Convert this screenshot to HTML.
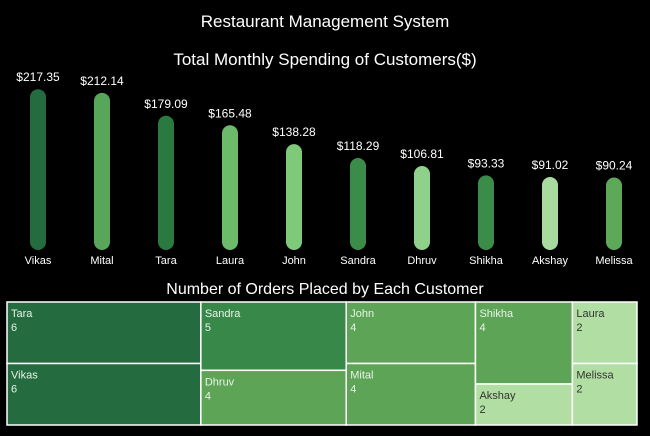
<!DOCTYPE html>
<html><head><meta charset="utf-8"><style>
body{margin:0;background:#000;width:650px;height:431px;overflow:hidden;font-family:"Liberation Sans",sans-serif}
</style></head><body>
<svg width="650" height="431" xmlns="http://www.w3.org/2000/svg">
<rect width="650" height="431" fill="#000"/>
<text x="325" y="27" fill="#fff" font-size="17" text-anchor="middle">Restaurant Management System</text>
<text x="325" y="65" fill="#fff" font-size="17" text-anchor="middle">Total Monthly Spending of Customers($)</text>
<text x="325" y="294" fill="#fff" font-size="16" text-anchor="middle">Number of Orders Placed by Each Customer</text>
<g id="bars"></g>
<g id="tree"></g>
</svg>
<script>
const names=["Vikas","Mital","Tara","Laura","John","Sandra","Dhruv","Shikha","Akshay","Melissa"];
const spending=[217.35,212.14,179.09,165.48,138.28,118.29,106.81,93.33,91.02,90.24];
const barColors=["#246b40","#57a65a","#2a7a3f","#6bbb6b","#7fc97a","#3a8c48","#8fd18a","#3a8c48","#a8dc9e","#5ea85a"];
const treeNames=["Tara","Vikas","Sandra","Dhruv","John","Mital","Shikha","Akshay","Laura","Melissa"];
const orders=[6,6,5,4,4,4,4,2,2,2];
const treeColors=["#246b40","#246b40","#38884a","#5ea457","#5ea457","#5ea457","#5ea457","#b1dfa3","#b1dfa3","#b1dfa3"];
const NS="http://www.w3.org/2000/svg";
const bx=i=>38+i*64;
const by=v=>250-(v+14)*0.695;
const bars=document.getElementById('bars');
names.forEach((n,i)=>{
  const r=document.createElementNS(NS,'rect');
  
  
  const t=by(spending[i]);
  r.setAttribute('x',bx(i)-8);r.setAttribute('y',t);r.setAttribute('width',16);r.setAttribute('height',250-t);
  r.setAttribute('rx',8);r.setAttribute('fill',barColors[i]);bars.appendChild(r);
  const l=document.createElementNS(NS,'text');
  
  
  l.setAttribute('x',bx(i));l.setAttribute('y',t-8);l.setAttribute('fill','#fff');l.setAttribute('font-size','12');l.setAttribute('text-anchor','middle');
  l.textContent='$'+spending[i].toFixed(2);bars.appendChild(l);
  const c=document.createElementNS(NS,'text');
  
  
  c.setAttribute('x',bx(i));c.setAttribute('y',264);c.setAttribute('fill','#fff');c.setAttribute('font-size','11');c.setAttribute('text-anchor','middle');
  c.textContent=n;bars.appendChild(c);
});
// treemap: columns of pairs, width proportional to sum, height split proportional
const X0=7,X1=637,Y0=302,Y1=425;
const total=orders.reduce((a,b)=>a+b,0);
const tree=document.getElementById('tree');
let x=X0;
for(let k=0;k<10;k+=2){
  const s=orders[k]+orders[k+1];
  const w=(X1-X0)*s/total;
  let y=Y0;
  [k,k+1].forEach(j=>{
    const h=(Y1-Y0)*orders[j]/s;
    const r=document.createElementNS(NS,'rect');
    
    
    r.setAttribute('x',x);r.setAttribute('y',y);r.setAttribute('width',w);r.setAttribute('height',h);
    r.setAttribute('fill',treeColors[j]);r.setAttribute('stroke','#fff');r.setAttribute('stroke-width','1.5');tree.appendChild(r);
    const tc=orders[j]<=2?'#333':'#e8f3e8';
    [treeNames[j],String(orders[j])].forEach((s2,m)=>{
      const t=document.createElementNS(NS,'text');
      
      
      t.setAttribute('x',x+4);t.setAttribute('y',y+15+m*14);t.setAttribute('fill',tc);t.setAttribute('font-size','11');
      t.textContent=s2;tree.appendChild(t);
    });
    y+=h;
  });
  x+=w;
}
</script>
</body></html>
